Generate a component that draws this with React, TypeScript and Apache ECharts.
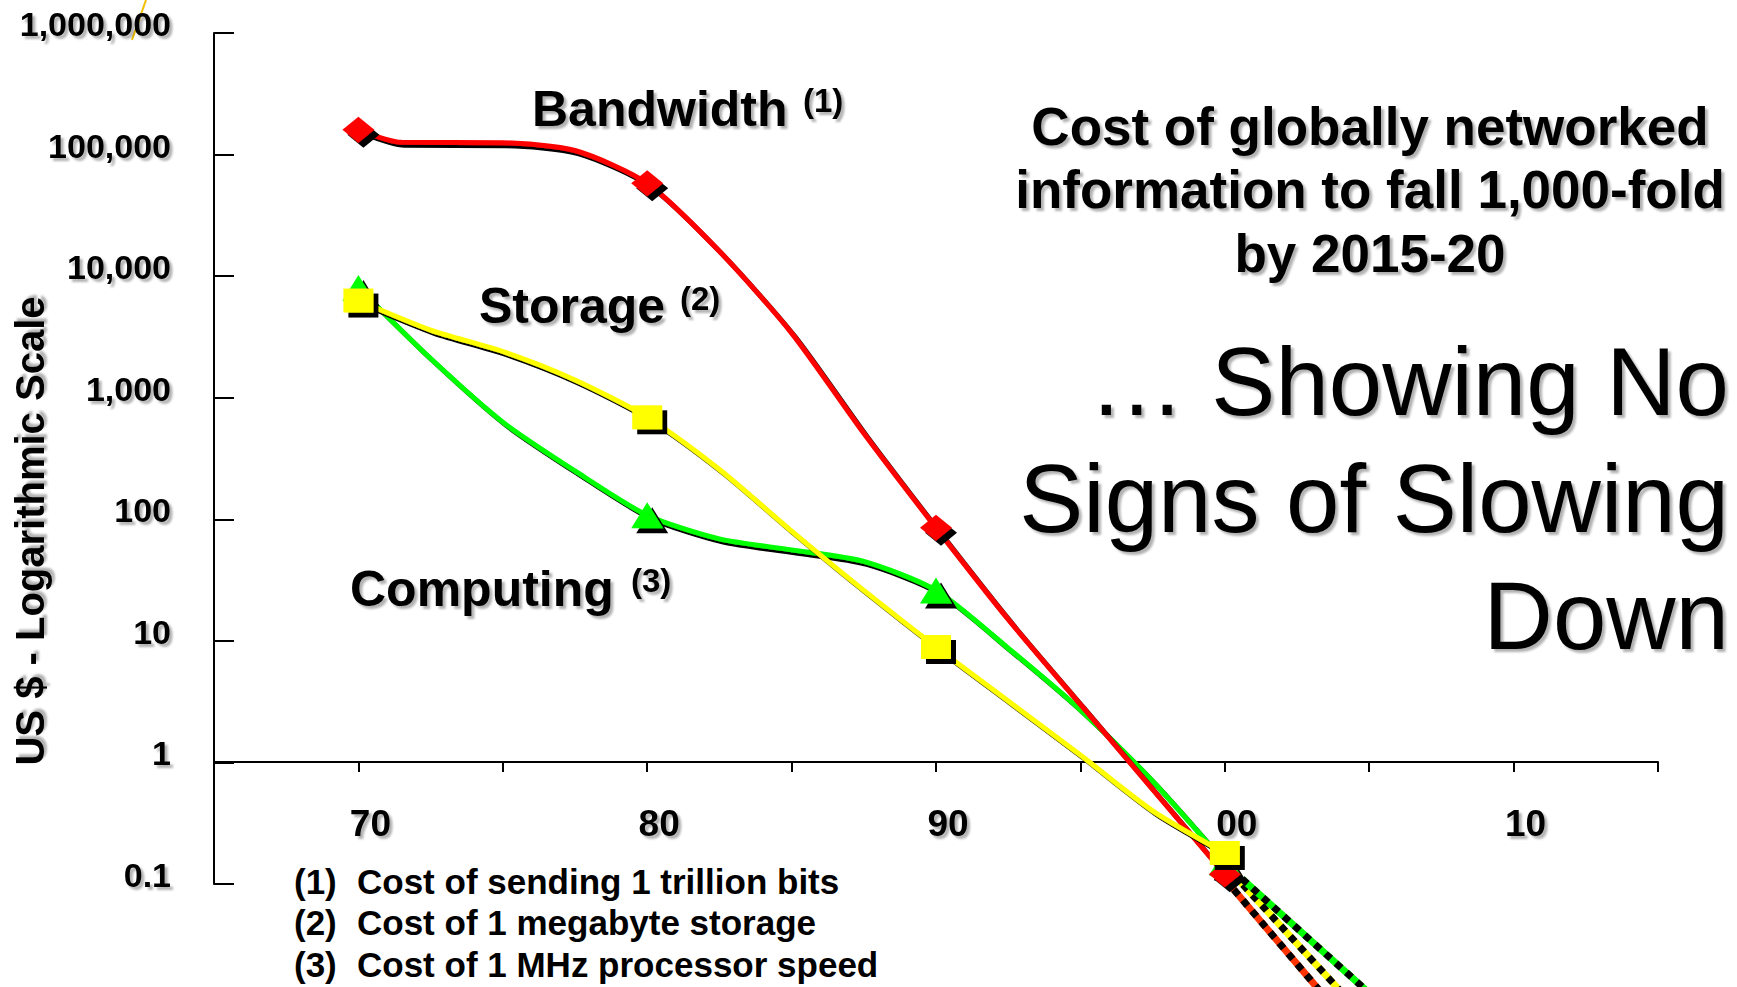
import React, { useEffect, useRef } from 'react';
import * as echarts from 'echarts';

// ---------- data ----------
const bandwidthYears = [1970, 1971.5, 1975, 1977.5, 1980, 1982.5, 1985, 1987.5, 1990, 1992.5, 1995, 1997.5, 2000];
const bandwidthCost = [160000, 126000, 125000, 108000, 58000, 16000, 3400, 510, 85, 15, 3.0, 0.6, 0.12];

const storageYears = [1970, 1972.5, 1975, 1977.5, 1980, 1982.5, 1985, 1987.5, 1990, 1992.5, 1995, 1997.5, 2000];
const storageCost = [6300, 3600, 2400, 1400, 690, 257, 80, 26, 8.9, 3.2, 1.15, 0.4, 0.18];

const computingYears = [1970, 1972.5, 1975, 1977.5, 1980, 1982.5, 1985, 1987.5, 1990, 1992.5, 1995, 1997.5, 2000];
const computingCost = [8000, 2100, 630, 250, 108, 69, 56, 45, 26, 8.7, 2.7, 0.7, 0.15];

// projections beyond 2000 (dotted)
const bandwidthProjYears = [2000, 2003.2, 2006];
const bandwidthProj = [0.11, 0.014, 0.0022];
const storageProjYears = [2000.3, 2003.9, 2006];
const storageProj = [0.12, 0.014, 0.0041];
const computingProjYears = [2000.6, 2004.8, 2007];
const computingProj = [0.11, 0.014, 0.0048];

const yTickValues = [0.1, 1, 10, 100, 1000, 10000, 100000, 1000000];
const yTickLabels = ['0.1', '1', '10', '100', '1,000', '10,000', '100,000', '1,000,000'];
const decadeYears = [1970, 1980, 1990, 2000, 2010];
const decadeLabels = ['70', '80', '90', '00', '10'];

const yAxisTitle = 'US $ - Logarithmic Scale';
const seriesNames = ['Bandwidth', 'Storage', 'Computing'];
const seriesMarks = ['(1)', '(2)', '(3)'];
const titleLines = ['Cost of globally networked', 'information to fall 1,000-fold', 'by 2015-20'];
const sloganLines = ['\u2026 Showing No', 'Signs of Slowing', 'Down'];
const footnotes = ['Cost of sending 1 trillion bits', 'Cost of 1 megabyte storage', 'Cost of 1 MHz processor speed'];

// ---------- styles ----------
const FONT = '"Liberation Sans", Arial, Helvetica, sans-serif';
const RED = '#ff0000';
const YELLOW = '#ffff00';
const GREEN = '#00ff00';
const txtShadow = {
  textShadowColor: 'rgba(0,0,0,0.3)',
  textShadowBlur: 2,
  textShadowOffsetX: 3,
  textShadowOffsetY: 3,
};

function buildData(years: number[], values: number[]) {
  return years.map((yr, i) =>
    yr % 10 === 0 ? [yr, values[i]] : { value: [yr, values[i]], symbol: 'none' }
  );
}

function mainLine(name: string, years: number[], values: number[], color: string, symbol: string, symbolSize: number[], z: number) {
  return {
    type: 'line',
    name,
    data: buildData(years, values),
    smooth: 0.25,
    clip: false,
    z,
    symbol,
    symbolSize,
    showSymbol: true,
    showAllSymbol: true,
    lineStyle: { color, width: 5, shadowColor: '#000', shadowBlur: 0, shadowOffsetX: 3, shadowOffsetY: 3 },
    itemStyle: { color, borderWidth: 0, shadowColor: '#000', shadowBlur: 0, shadowOffsetX: 5, shadowOffsetY: 5 },
    emphasis: { disabled: true },
  };
}

function projLines(years: number[], values: number[], color: string) {
  const data = years.map((yr, i) => [yr, values[i]]);
  return [
    { type: 'line', data, symbol: 'none', clip: false, z: 1, lineStyle: { color, width: 7 }, emphasis: { disabled: true } },
    { type: 'line', data, symbol: 'none', clip: false, z: 1, lineStyle: { color: '#000', width: 7, type: [7, 7] }, emphasis: { disabled: true } },
  ];
}

function textEl(text: string, x: number, y: number, font: string, align: string, shadow = true, extra: any = {}) {
  return {
    type: 'text',
    x,
    y,
    silent: true,
    ...extra,
    style: {
      text,
      font,
      fill: '#000',
      align,
      textAlign: align,
      verticalAlign: 'middle',
      textVerticalAlign: 'middle',
      ...(shadow ? txtShadow : {}),
    },
  };
}

export default function App() {
  const ref = useRef<HTMLDivElement>(null);

  useEffect(() => {
    if (!ref.current) return;
    const chart = echarts.init(ref.current, null, { renderer: 'svg' });

    const bold = (s: number) => `bold ${s}px ${FONT}`;
    const graphics: any[] = [];

    // y axis title (rotated)
    graphics.push(textEl(yAxisTitle, 30, 531, bold(40), 'center', true, { rotation: Math.PI / 2 }));

    // series labels
    const labelPos = [
      { x: 532, y: 109, sx: 803, sy: 100 },
      { x: 479, y: 306, sx: 680, sy: 298 },
      { x: 350, y: 589, sx: 631, sy: 580 },
    ];
    seriesNames.forEach((n, i) => {
      graphics.push(textEl(n, labelPos[i].x, labelPos[i].y, bold(50), 'left'));
      graphics.push(textEl(seriesMarks[i], labelPos[i].sx, labelPos[i].sy, bold(33), 'left'));
    });

    // title block
    titleLines.forEach((t, i) => graphics.push(textEl(t, 1370, 126 + i * 63.5, bold(53), 'center')));
    sloganLines.forEach((t, i) => graphics.push(textEl(t, 1729, 381 + i * 117, `96px ${FONT}`, 'right')));

    // footnotes
    footnotes.forEach((t, i) => {
      graphics.push(textEl(seriesMarks[i], 294, 881 + i * 41.5, bold(35), 'left', false));
      graphics.push(textEl(t, 357, 881 + i * 41.5, bold(35), 'left', false));
    });

    // small stray stroke at the top-left of the slide
    graphics.push({
      type: 'line',
      silent: true,
      shape: { x1: 146, y1: 0, x2: 132, y2: 40 },
      style: { stroke: '#f0c000', lineWidth: 2 },
    });

    const option: any = {
      animation: false,
      backgroundColor: '#ffffff',
      grid: { left: 214, right: 79, top: 33, bottom: 103, containLabel: false, outerBoundsMode: 'none' },
      xAxis: {
        type: 'value',
        min: 1965,
        max: 2015,
        interval: 5,
        offset: -122,
        axisLine: { show: true, onZero: false, lineStyle: { color: '#000', width: 2 } },
        axisTick: { show: true, length: 10, lineStyle: { color: '#000', width: 2 } },
        splitLine: { show: false },
        axisLabel: {
          show: true,
          showMinLabel: true,
          showMaxLabel: true,
          hideOverlap: false,
          margin: 61,
          verticalAlign: 'middle',
          padding: [0, 0, 0, 24],
          color: '#000',
          fontFamily: FONT,
          fontWeight: 'bold',
          fontSize: 37,
          ...txtShadow,
          formatter: (v: number) => {
            const idx = decadeYears.indexOf(Math.round(v));
            return idx >= 0 ? decadeLabels[idx] : '';
          },
        },
      },
      yAxis: {
        type: 'log',
        logBase: 10,
        min: 0.1,
        max: 1000000,
        axisLine: { show: true, lineStyle: { color: '#000', width: 2 } },
        axisTick: { show: true, inside: true, length: 20, lineStyle: { color: '#000', width: 2 } },
        splitLine: { show: false },
        axisLabel: {
          margin: 43,
          verticalAlign: 'bottom',
          lineHeight: 18,
          hideOverlap: false,
          color: '#000',
          fontFamily: FONT,
          fontWeight: 'bold',
          fontSize: 34,
          ...txtShadow,
          formatter: (v: number) => {
            const idx = yTickValues.findIndex((t) => Math.abs(Math.log10(t) - Math.log10(v)) < 1e-6);
            return idx >= 0 ? yTickLabels[idx] : '';
          },
        },
      },
      series: [
        ...projLines(bandwidthProjYears, bandwidthProj, '#ff3300'),
        ...projLines(storageProjYears, storageProj, YELLOW),
        ...projLines(computingProjYears, computingProj, GREEN),
        mainLine(seriesNames[2], computingYears, computingCost, GREEN, 'triangle', [32, 26], 3),
        mainLine(seriesNames[0], bandwidthYears, bandwidthCost, RED, 'diamond', [32, 26], 4),
        mainLine(seriesNames[1], storageYears, storageCost, YELLOW, 'rect', [30, 24], 5),
      ],
      graphic: { elements: graphics },
    };

    chart.setOption(option);
    return () => chart.dispose();
  }, []);

  return (
    <div
      ref={ref}
      style={{ position: 'fixed', left: 0, top: 0, width: 1737, height: 987, background: '#fff' }}
    />
  );
}
